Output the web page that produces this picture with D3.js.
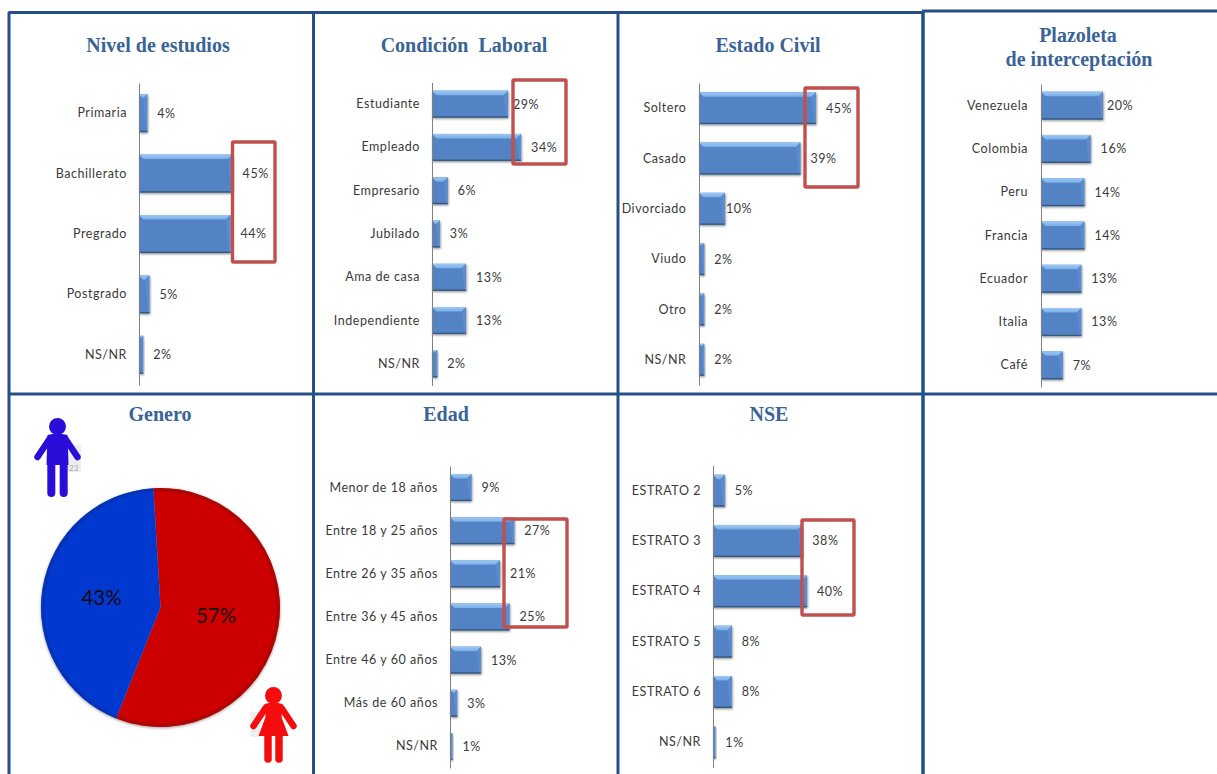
<!DOCTYPE html>
<html>
<head>
<meta charset="utf-8">
<script src="https://cdn.jsdelivr.net/npm/d3@7"></script>
<style>
  html, body { margin: 0; padding: 0; background: #fff; overflow: hidden; }
  svg { display: block; }
  .cat, .val { font-family: Lato, sans-serif; font-size: 12.5px; fill: #3a3a3a; letter-spacing: 0.55px; }
  .title { font-family: "Liberation Serif", serif; font-weight: bold; font-size: 20px; fill: #3a6396; text-anchor: middle; white-space: pre; }
  .pct { font-family: Lato, sans-serif; font-size: 20.5px; fill: #1a0a0a; text-anchor: middle; }
  .mark { font-family: Lato, sans-serif; font-size: 8px; fill: #a8a8a8; }
</style>
</head>
<body>
<svg id="chart" width="1217" height="774"></svg>
<script>
// Survey profile values, in percent
const estudiosCats = ["Primaria", "Bachillerato", "Pregrado", "Postgrado", "NS/NR"];
const estudiosVals = [4, 45, 44, 5, 2];
const laboralCats = ["Estudiante", "Empleado", "Empresario", "Jubilado", "Ama de casa", "Independiente", "NS/NR"];
const laboralVals = [29, 34, 6, 3, 13, 13, 2];
const civilCats = ["Soltero", "Casado", "Divorciado", "Viudo", "Otro", "NS/NR"];
const civilVals = [45, 39, 10, 2, 2, 2];
const plazoletaCats = ["Venezuela", "Colombia", "Peru", "Francia", "Ecuador", "Italia", "Café"];
const plazoletaVals = [20, 16, 14, 14, 13, 13, 7];
const edadCats = ["Menor de 18 años", "Entre 18 y 25 años", "Entre 26 y 35 años", "Entre 36 y 45 años", "Entre 46 y 60 años", "Más de 60 años", "NS/NR"];
const edadVals = [9, 27, 21, 25, 13, 3, 1];
const nseCats = ["ESTRATO 2", "ESTRATO 3", "ESTRATO 4", "ESTRATO 5", "ESTRATO 6", "NS/NR"];
const nseVals = [5, 38, 40, 8, 8, 1];
const generoCats = ["Masculino", "Femenino"];
const generoVals = [43, 57];

const COLORS = { frame: "#254f86", box: "#c0504d", bar: "#5283c4", barDark: "#38597f", axis: "#808080" };

// Panel layout: axis origin, pixels per percent, vertical band range, bar thickness
const panels = [
  { title: "Nivel de estudios", tx: 158, ty: 51.5, cats: estudiosCats, vals: estudiosVals, x0: 139, k: 2.08, y0: 83, y1: 385, h: 38, lab: 127,
    nudge: {}, box: [232.5, 142, 275, 262] },
  { title: "Condición  Laboral", tx: 464, ty: 51.5, cats: laboralCats, vals: laboralVals, x0: 432, k: 2.62, y0: 82.5, y1: 385.5, h: 27, lab: 420,
    nudge: { 0: -5 }, box: [513, 80, 566, 164] },
  { title: "Estado Civil", tx: 768, ty: 51.5, cats: civilCats, vals: civilVals, x0: 699, k: 2.6, y0: 83, y1: 385, h: 32, lab: 686.5,
    nudge: { 2: -9 }, box: [805, 88, 858, 187] },
  { title: "Plazoleta", title2: "de interceptación", tx: 1078, ty: 42, cats: plazoletaCats, vals: plazoletaVals, x0: 1041, k: 3.1, y0: 84, y1: 387, h: 28, lab: 1028,
    nudge: { 0: -6 } },
  { title: "Edad", tx: 446, ty: 420.5, cats: edadCats, vals: edadVals, x0: 450, k: 2.38, y0: 466, y1: 768, h: 27, lab: 438,
    nudge: {}, box: [504, 519, 567, 627] },
  { title: "NSE", tx: 769, ty: 420.5, cats: nseCats, vals: nseVals, x0: 713, k: 2.35, y0: 465.5, y1: 767.5, h: 32, lab: 701,
    nudge: {}, box: [802, 520, 854, 615] }
];

const svg = d3.select("#chart");
const defs = svg.append("defs");

const shadow = defs.append("filter").attr("id", "barShadow")
  .attr("x", "-20%").attr("y", "-20%").attr("width", "150%").attr("height", "150%");
shadow.append("feDropShadow").attr("dx", 0.8).attr("dy", 1.2).attr("stdDeviation", 1)
  .attr("flood-color", "#000").attr("flood-opacity", 0.45);

const soft = defs.append("filter").attr("id", "soft");
soft.append("feGaussianBlur").attr("stdDeviation", 0.5);

const topGrad = defs.append("linearGradient").attr("id", "bevelTop").attr("x1", 0).attr("y1", 0).attr("x2", 0).attr("y2", 1);
topGrad.append("stop").attr("offset", 0).attr("stop-color", "#9cc8f4");
topGrad.append("stop").attr("offset", 1).attr("stop-color", "#7aaee8");

// One bevelled horizontal bar chart per panel
panels.forEach(p => {
  const g = svg.append("g");
  const x = d3.scaleLinear().domain([0, 100]).range([p.x0, p.x0 + p.k * 100]);
  const y = d3.scaleBand().domain(p.cats).range([p.y0, p.y1]).paddingInner(0).paddingOuter(0);

  g.append("text").attr("class", "title").attr("x", p.tx).attr("y", p.ty).text(p.title);
  if (p.title2) g.append("text").attr("class", "title").attr("x", p.tx + 1).attr("y", p.ty + 24).text(p.title2);

  const rows = g.selectAll("g.row").data(p.cats.map((c, i) => ({ c, v: p.vals[i], i }))).join("g")
    .attr("class", "row")
    .attr("transform", d => `translate(0,${y(d.c) + y.bandwidth() / 2 - p.h / 2})`);

  rows.append("rect").attr("x", x(0)).attr("y", 0)
    .attr("width", d => x(d.v) - x(0)).attr("height", p.h)
    .attr("fill", COLORS.bar).attr("filter", "url(#barShadow)");

  // Bevel facets: a mitred highlight on top, thin shaded edges on the sides and bottom
  const bevel = d => Math.min(4.5, (x(d.v) - x(0)) / 2);
  rows.append("path").attr("fill", "url(#bevelTop)")
    .attr("d", d => { const w = x(d.v) - x(0), b = bevel(d);
      return `M${x(0)},0h${w}l${-b},${b}H${x(0) + b}Z`; });
  rows.append("path").attr("fill", "#5f8fcf").attr("opacity", 0.8)
    .attr("d", d => { const w = x(d.v) - x(0), b = bevel(d);
      return `M${x(0) + w},0v${p.h}h${-1.5}L${x(0) + w - b},${b}Z`; });
  rows.append("rect").attr("x", x(0)).attr("y", p.h - 1.4)
    .attr("width", d => x(d.v) - x(0)).attr("height", 1.4).attr("fill", COLORS.barDark);

  rows.append("text").attr("class", "val")
    .attr("x", d => x(d.v) + 10 + (p.nudge[d.i] || 0))
    .attr("y", p.h / 2).attr("dy", "0.35em")
    .text(d => d.v + "%");

  // Category axis: a bare vertical rule with labels set at a fixed gutter
  const axis = d3.axisLeft(y).tickSize(0).tickPadding(x(0) - p.lab);
  const axisG = g.append("g").attr("transform", `translate(${x(0)},0)`).call(axis);
  axisG.select(".domain").attr("stroke", COLORS.axis).attr("stroke-width", 1);
  axisG.selectAll("text").attr("class", "cat").attr("font-family", null).attr("font-size", null).attr("fill", null);

  if (p.box) {
    const [bx0, by0, bx1, by1] = p.box;
    g.append("rect").attr("x", bx0).attr("y", by0).attr("width", bx1 - bx0).attr("height", by1 - by0)
      .attr("rx", 1).attr("fill", "none").attr("stroke", COLORS.box).attr("stroke-width", 3.4);
  }
});

// Grid frame goes over the panels, so long labels get trimmed by it
const frame = svg.append("g").attr("stroke", COLORS.frame).attr("fill", "none");
[[8.5, 12.5, 922, 12.5, 3], [922, 11, 1217, 11, 3], [8.5, 394, 1217, 394, 3],
 [9, 12, 9, 774, 3], [313.5, 12, 313.5, 774, 3], [618, 12, 618, 774, 3], [923, 11, 923, 774, 3.5]]
  .forEach(([x1, y1, x2, y2, w]) => frame.append("line")
    .attr("x1", x1).attr("y1", y1).attr("x2", x2).attr("y2", y2).attr("stroke-width", w));

// Gender pie
const pieG = svg.append("g").attr("transform", "translate(160.5,607.5)");
svg.append("text").attr("class", "title").attr("x", 160).attr("y", 420.5).text("Genero");

const startA = -3.4 * Math.PI / 180;
const pie = d3.pie().sort(null).value(d => d).startAngle(startA).endAngle(startA + 2 * Math.PI);
const generoFill = { Femenino: "#cc0605", Masculino: "#0438d0" };
const generoEdge = { Femenino: "#8f0a0a", Masculino: "#0a2d9c" };
// Red slice runs clockwise from the top, so it is listed first for the layout
const arcs = pie([generoVals[1], generoVals[0]]);
const names = [generoCats[1], generoCats[0]];
const R = 119.5;
const arc = d3.arc().innerRadius(0).outerRadius(R);
const rimArc = d3.arc().innerRadius(R - 3.5).outerRadius(R);

const pieShadow = defs.append("filter").attr("id", "pieShadow").attr("x", "-10%").attr("y", "-10%").attr("width", "120%").attr("height", "120%");
pieShadow.append("feDropShadow").attr("dx", 0).attr("dy", 1).attr("stdDeviation", 1.5).attr("flood-color", "#000").attr("flood-opacity", 0.4);

pieG.append("g").attr("filter", "url(#pieShadow)").selectAll("path").data(arcs).join("path")
  .attr("d", arc).attr("fill", (d, i) => generoFill[names[i]]);
pieG.selectAll("path.rim").data(arcs).join("path").attr("class", "rim")
  .attr("d", rimArc).attr("fill", (d, i) => generoEdge[names[i]]).attr("opacity", 0.5);

// Percent labels sit at fixed spots inside each slice
pieG.append("text").attr("class", "pct").attr("x", 55.5).attr("y", 15.5).text(generoVals[1] + "%");
pieG.append("text").attr("class", "pct").attr("x", -59).attr("y", -2.5).text(generoVals[0] + "%");

// Stray stamps behind the two figures
svg.append("rect").attr("x", 68).attr("y", 445).attr("width", 13).attr("height", 27).attr("fill", "#eeeeee");
svg.append("text").attr("class", "mark").attr("x", 69).attr("y", 471).text("23");
svg.append("rect").attr("x", 250.5).attr("y", 712).attr("width", 9).attr("height", 25).attr("fill", "#eeeeee");

// Stick figures next to the pie
function person(cx, top, color, skirt) {
  const f = svg.append("g").attr("transform", `translate(${cx},${top})`).attr("filter", "url(#soft)");
  f.append("circle").attr("cx", 0).attr("cy", 8.5).attr("r", 8.5).attr("fill", color);
  const limb = (pts, w) => f.append("path").attr("d", d3.line()(pts)).attr("fill", "none")
    .attr("stroke", color).attr("stroke-width", w).attr("stroke-linecap", "round").attr("stroke-linejoin", "round");
  limb([[-8, 21], [-20, 39]], 6.5);
  limb([[8, 21], [20, 39]], 6.5);
  if (skirt) {
    f.append("path").attr("fill", color)
      .attr("d", "M-9,17 Q0,14 9,17 L8,30 L15,49 H-15 L-8,30 Z");
    limb([[-5.5, 46], [-5.5, 72]], 7.5);
    limb([[5.5, 46], [5.5, 72]], 7.5);
  } else {
    f.append("path").attr("fill", color)
      .attr("d", "M-10,17 Q0,14 10,17 L11,47 H-11 Z");
    limb([[-6.2, 44], [-6.2, 75]], 8);
    limb([[6.2, 44], [6.2, 75]], 8);
  }
}
person(57.5, 418, "#2a10d8", false);
person(273.5, 687, "#f50a0a", true);
</script>
</body>
</html>
